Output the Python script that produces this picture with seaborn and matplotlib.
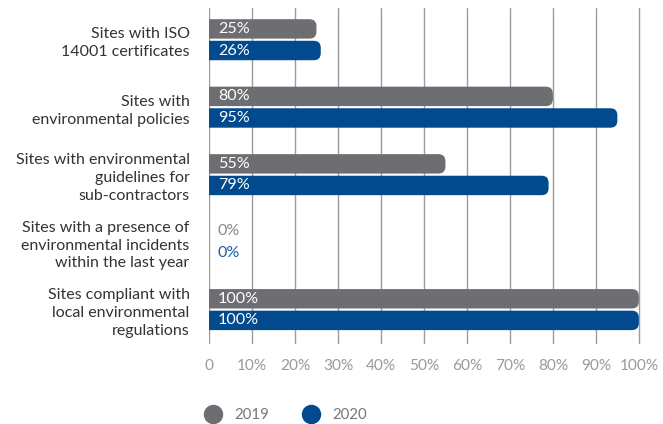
import matplotlib
matplotlib.use("Agg")
import matplotlib.pyplot as plt
import seaborn as sns
import pandas as pd
from matplotlib.patches import FancyBboxPatch
from matplotlib.lines import Line2D

# data
categories = [
    "Sites with ISO\n14001 certificates",
    "Sites with\nenvironmental policies",
    "Sites with environmental\nguidelines for\nsub-contractors",
    "Sites with a presence of\nenvironmental incidents\nwithin the last year",
    "Sites compliant with\nlocal environmental\nregulations",
]
years = ["2019", "2020"]
values_2019 = [25, 80, 55, 0, 100]
values_2020 = [26, 95, 79, 0, 100]
xticks = list(range(0, 101, 10))
xtick_labels = ["0"] + [f"{t}%" for t in xticks[1:]]

colors = {"2019": "#6d6e71", "2020": "#004a8d"}
zero_colors = {"2019": "#8a8a8a", "2020": "#1d5ea6"}

df = pd.DataFrame({
    "category": categories * 2,
    "year": [years[0]] * len(categories) + [years[1]] * len(categories),
    "value": values_2019 + values_2020,
})

sns.set_style("white")
plt.rcParams["font.family"] = ["Lato", "DejaVu Sans"]

fig = plt.figure(figsize=(6.63, 4.24), dpi=100)
renderer = fig.canvas.get_renderer()


def fit_size(txt, target_px, base=10):
    # font size that makes txt about target_px wide
    t = fig.text(0, 0, txt, fontsize=base)
    w = t.get_window_extent(renderer=renderer).width
    t.remove()
    return base * target_px / w


cat_fs = fit_size("Sites with environmental", 174)
val_fs = fit_size("100%", 41)
tick_fs = fit_size("100%", 39)
leg_fs = fit_size("2019", 35)

ax = fig.add_axes([209 / 663, 1 - 344 / 424, 432 / 663, 336 / 424])

sns.barplot(data=df, y="category", x="value", hue="year", palette=colors,
            saturation=1, orient="h", width=0.64, gap=0.1, legend=False, ax=ax)

ax.set_xlim(0, 100.5)
ax.set_ylim(4.51, -0.47)
ax.set_xticks(xticks)
ax.set_xticklabels(xtick_labels)
ax.set_xlabel("")
ax.set_ylabel("")
for s in ax.spines.values():
    s.set_visible(False)
ax.xaxis.grid(True, color="#9c9c9c", lw=1)
ax.set_axisbelow(True)
ax.tick_params(axis="x", length=0, pad=11, labelsize=tick_fs, labelcolor="#9a9a9a")
ax.tick_params(axis="y", length=0, pad=14, labelsize=cat_fs, labelcolor="#333333")
for lbl in ax.get_yticklabels():
    lbl.set_linespacing(1.35)

# swap the flat bars for ones with rounded right ends
bb = ax.get_window_extent()
x_per_px = 100.5 / bb.width
y_per_px = abs(4.51 + 0.47) / bb.height
r = 7 * x_per_px
asp = (7 * y_per_px) / r
label_x = 9 * x_per_px


def year_of(fc):
    # tell the two palette colours apart by the blue channel
    return "2020" if fc[2] - fc[0] > 0.2 else "2019"


bars = list(ax.patches)
for p in bars:
    x0, y0, w, h = p.get_x(), p.get_y(), p.get_width(), p.get_height()
    fc = p.get_facecolor()
    year = year_of(fc)
    p.set_visible(False)
    yc = y0 + h / 2
    if w > 0:
        ax.add_patch(FancyBboxPatch((x0 - r, y0), w + r, h,
                                    boxstyle=f"round,pad=0,rounding_size={r}",
                                    mutation_aspect=asp, fc=fc, ec="none", zorder=2))
        ax.text(label_x, yc, f"{w:.0f}%", color="white", va="center", ha="left",
                fontsize=val_fs, zorder=3)
    else:
        ax.text(label_x, yc, "0%", color=zero_colors[year], va="center", ha="left",
                fontsize=val_fs, zorder=3)

handles = [Line2D([], [], marker="o", ls="", color=colors[y], markersize=13) for y in years]
fig.legend(handles, years, loc="center", bbox_to_anchor=(286 / 663, 1 - 415 / 424),
           ncol=2, frameon=False, fontsize=leg_fs, labelcolor="#777777",
           handlelength=1.0, handletextpad=0.9, columnspacing=2.3)

fig.savefig("out.png", dpi=100)
